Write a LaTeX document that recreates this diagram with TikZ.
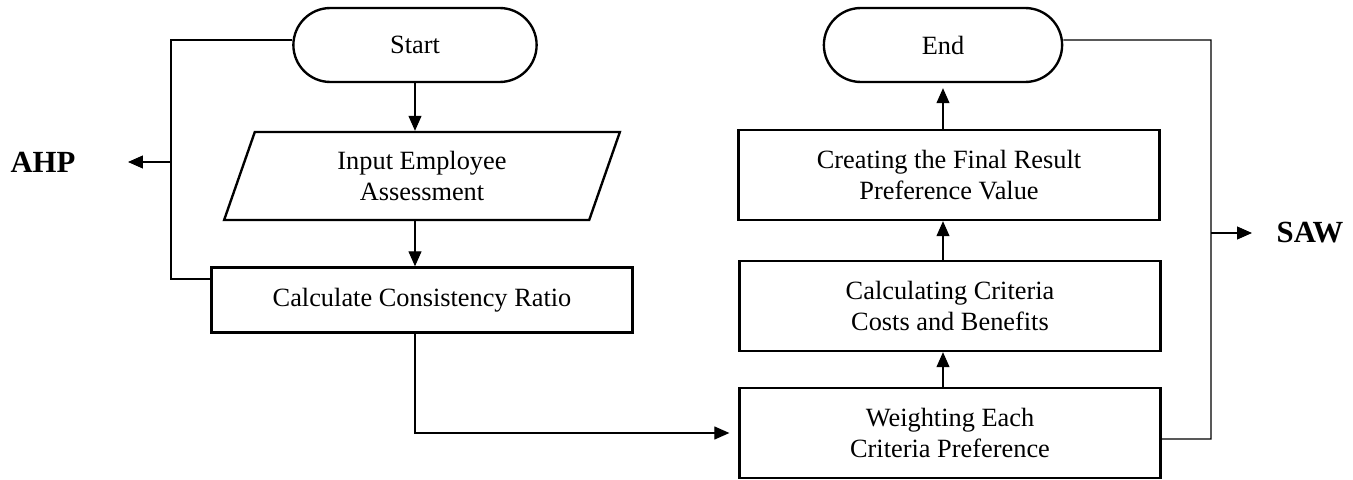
\documentclass[tikz,border=0pt]{standalone}
\usepackage{fontspec}
\setmainfont{Liberation Serif}
\usepackage{tikz}
\usetikzlibrary{arrows.meta,shapes.geometric,shapes.misc,positioning}

\begin{document}
\begin{tikzpicture}[x=0.02cm,y=-0.02cm,>={Triangle[length=0.3cm,width=0.26cm]},
  font=\fontsize{15}{18}\selectfont,
  box/.style={draw,line width=1.35pt,align=center,minimum width=8.42cm,minimum height=1.8cm},
  term/.style={draw,line width=1.35pt,rounded rectangle,minimum width=5.1cm,minimum height=1.48cm},
  io/.style={draw,line width=1.35pt,trapezium,trapezium left angle=75,trapezium right angle=105,
    trapezium stretches=true,align=center,minimum width=7.92cm,minimum height=1.76cm},
  line/.style={line width=0.65pt},
  arr/.style={line width=0.65pt,->},
  lbl/.style={font=\fontsize{17.5}{20}\selectfont\bfseries}]
  \useasboundingbox (0,0) rectangle (1353,480);
  \node[term] (start) at (415,45) {Start};
  \node[io] (input) at (422,176) {Input Employee\\Assessment};
  \node[box,minimum height=1.3cm] (calc) at (422,300) {Calculate Consistency Ratio};
  \node[box] (weight) at (950,433) {Weighting Each\\Criteria Preference};
  \node[box] (costs) at (950,306) {Calculating Criteria\\Costs and Benefits};
  \node[box] (final) at (949,175) {Creating the Final Result\\Preference Value};
  \node[term,minimum width=5.0cm] (end) at (943,45) {End};
  \node[lbl] (ahp) at (43,162) {AHP};
  \node[lbl] (saw) at (1310,233) {SAW};
  \coordinate (ahpbend) at (171,279);
  \coordinate (ahptip) at (128,162);
  \coordinate (sawtop) at (1211,40);
  \coordinate (sawbot) at (1211,439);
  \coordinate (sawtip) at (1252,233);
  \draw[arr] (start.south) -- (start.south |- input.north);
  \draw[arr] (start.south |- input.south) -- (start.south |- calc.north);
  \draw[line] ([yshift=0.1cm]start.west) -- ([yshift=0.1cm]start.west -| ahpbend) -- (ahpbend) -- (ahpbend -| calc.west);
  \draw[arr] (ahpbend |- ahptip) -- (ahptip);
  \draw[arr] (start.south |- calc.south) |- ([xshift=-0.18cm]weight.west);
  \draw[arr] (end.south |- weight.north) -- (end.south |- costs.south);
  \draw[arr] (end.south |- costs.north) -- (end.south |- final.south);
  \draw[arr] (end.south |- final.north) -- ([yshift=-0.1cm]end.south);
  \draw[line] ([yshift=0.1cm]end.east) -- (sawtop) -- (sawbot) -- (sawbot -| weight.east);
  \draw[arr] (sawtop |- sawtip) -- (sawtip);
\end{tikzpicture}
\end{document}
